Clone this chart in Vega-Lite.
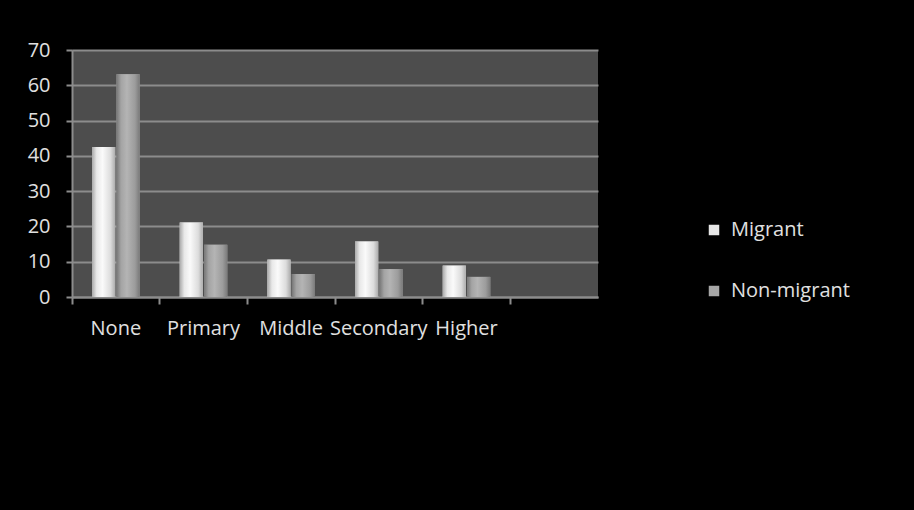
{
  "$schema": "https://vega.github.io/schema/vega-lite/v6.json",
  "autosize": "none",
  "width": 526,
  "height": 247,
  "padding": {"left": 72, "top": 50, "right": 316, "bottom": 213},
  "background": "#000000",
  "config": {
    "font": "Open Sans",
    "view": {"fill": "#4d4d4d", "stroke": null},
    "axis": {
      "labelFont": "Open Sans",
      "labelFontSize": 20,
      "labelColor": "#e0e0e0",
      "domainColor": "#8c8c8c",
      "domainWidth": 2,
      "tickColor": "#8c8c8c",
      "tickWidth": 2,
      "gridColor": "#8c8c8c",
      "gridWidth": 2,
      "title": null
    },
    "legend": {
      "labelFont": "Open Sans",
      "labelFontSize": 20,
      "labelColor": "#e0e0e0"
    }
  },
  "data": {
    "values": [
      {"level": "None", "series": "Migrant", "value": 42.5},
      {"level": "None", "series": "Non-migrant", "value": 63.1},
      {"level": "Primary", "series": "Migrant", "value": 21.1},
      {"level": "Primary", "series": "Non-migrant", "value": 14.8},
      {"level": "Middle", "series": "Migrant", "value": 10.6},
      {"level": "Middle", "series": "Non-migrant", "value": 6.5},
      {"level": "Secondary", "series": "Migrant", "value": 15.7},
      {"level": "Secondary", "series": "Non-migrant", "value": 7.9},
      {"level": "Higher", "series": "Migrant", "value": 8.9},
      {"level": "Higher", "series": "Non-migrant", "value": 5.7}
    ]
  },
  "encoding": {
    "x": {
      "field": "level",
      "type": "nominal",
      "scale": {"domain": ["None", "Primary", "Middle", "Secondary", "Higher", " "], "paddingInner": 0, "paddingOuter": 0},
      "axis": {
        "labelAngle": 0,
        "labelOverlap": false,
        "labelBound": false,
        "bandPosition": 0,
        "tickSize": 7,
        "labelPadding": 14,
        "domain": true
      }
    },
    "xOffset": {
      "field": "series",
      "type": "nominal",
      "scale": {"domain": ["Migrant", "Non-migrant"], "paddingInner": 0.05, "paddingOuter": 0.82}
    },
    "y": {
      "field": "value",
      "type": "quantitative",
      "scale": {"domain": [0, 70], "nice": false},
      "axis": {"values": [0, 10, 20, 30, 40, 50, 60, 70], "tickSize": 6, "labelPadding": 16, "grid": true, "domain": true}
    }
  },
  "layer": [
    {
      "mark": {"type": "bar"},
      "encoding": {
        "color": {
          "field": "series",
          "type": "nominal",
          "scale": {"domain": ["Migrant", "Non-migrant"], "range": ["#e6e6e6", "#a6a6a6"]},
          "legend": {
            "title": null,
            "orient": "none",
            "legendX": 632,
            "legendY": 170,
            "symbolType": "square",
            "symbolSize": 110,
            "symbolStrokeWidth": 0,
            "rowPadding": 41,
            "labelOffset": 7
          }
        }
      }
    },
    {
      "mark": {"type": "bar"},
      "encoding": {
        "color": {
          "condition": {
            "test": "datum.series === 'Migrant'",
            "value": {
              "gradient": "linear", "x1": 0, "y1": 0, "x2": 1, "y2": 0,
              "stops": [
                {"offset": 0, "color": "#a9a9a9"},
                {"offset": 0.2, "color": "#e8e8e8"},
                {"offset": 0.45, "color": "#fafafa"},
                {"offset": 0.8, "color": "#dcdcdc"},
                {"offset": 1, "color": "#acacac"}
              ]
            }
          },
          "value": {
            "gradient": "linear", "x1": 0, "y1": 0, "x2": 1, "y2": 0,
            "stops": [
              {"offset": 0, "color": "#767676"},
              {"offset": 0.2, "color": "#a4a4a4"},
              {"offset": 0.45, "color": "#b4b4b4"},
              {"offset": 0.8, "color": "#9c9c9c"},
              {"offset": 1, "color": "#7a7a7a"}
            ]
          }
        }
      }
    }
  ]
}
